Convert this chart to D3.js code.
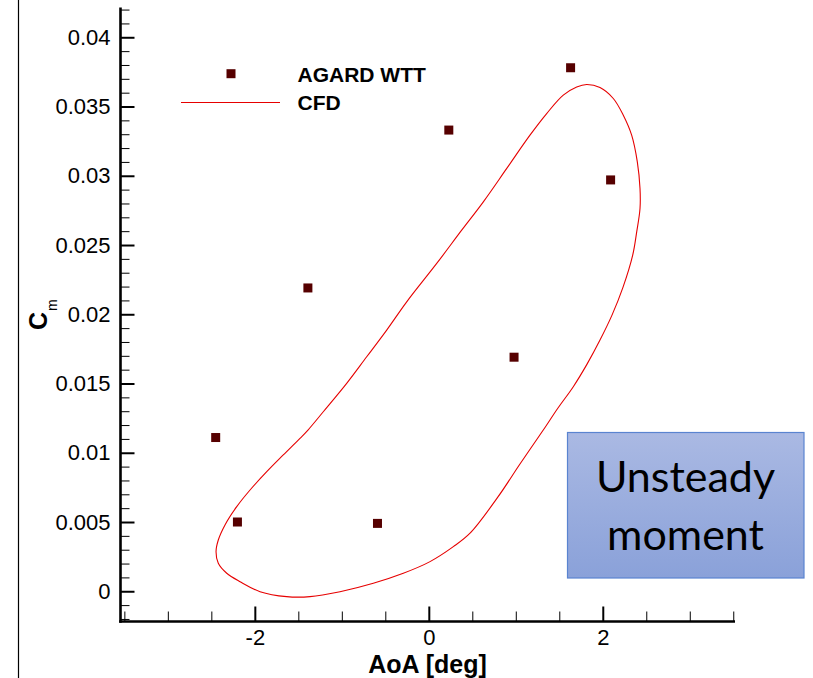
<!DOCTYPE html>
<html>
<head>
<meta charset="utf-8">
<script src="https://cdn.jsdelivr.net/npm/d3@7"></script>
<style>
  html, body { margin: 0; padding: 0; background: #fff; }
  svg { display: block; }
</style>
</head>
<body>
<svg id="chart" width="813" height="678"></svg>
<script>
// Wind-tunnel measurements (AGARD WTT): angle of attack [deg] and pitching moment
const wttAoA = [-2.45, -2.20, -1.39, -0.59, 0.23, 0.98, 1.63, 2.09];
const wttCm  = [0.0111, 0.0050, 0.0219, 0.0049, 0.0333, 0.0169, 0.0378, 0.0297];

// CFD hysteresis loop, traced once around the cycle
const cfdAoA = [
  -1.634, -1.366, -1.021, -0.638, -0.293, 0.014, 0.282, 0.474, 0.795, 1.048,
   1.316,  1.485,  1.661,  1.819,  1.968, 2.106, 2.233, 2.344, 2.390, 2.428,
   2.428,  2.397,  2.332,  2.236,  2.121, 1.968, 1.815, 1.700, 1.546, 1.355,
   1.163,  0.896,  0.627,  0.378,  0.091, -0.254, -0.484, -0.714, -0.944, -1.213,
  -1.389, -1.481, -1.673, -1.863, -2.055, -2.208, -2.343, -2.420, -2.446, -2.420,
  -2.323, -2.170, -1.940
];
const cfdCm = [
  -0.00039, -0.00039, -0.00003, 0.00058, 0.00130, 0.00214, 0.00322, 0.00419, 0.00681, 0.00919,
   0.01164,  0.01323,  0.01477, 0.01640, 0.01814, 0.01994, 0.02196, 0.02427, 0.02595, 0.02764,
   0.02908,  0.03100,  0.03293, 0.03437, 0.03558, 0.03637, 0.03659, 0.03641, 0.03582, 0.03449,
   0.03293,  0.03053,  0.02812, 0.02607, 0.02367, 0.02090, 0.01886, 0.01693, 0.01501, 0.01296,
   0.01164,  0.01104,  0.00984, 0.00863, 0.00731, 0.00611, 0.00479, 0.00370, 0.00286, 0.00202,
   0.00130,  0.00069, -0.00003
];

// Axis ticks and labels
const xMajorTicks  = [-2, 0, 2];
const xTickLabels  = ["-2", "0", "2"];
const xMinorTicks  = [-3.5, -3, -2.5, -1.5, -1, -0.5, 0.5, 1, 1.5, 2.5, 3, 3.5];
const yMajorTicks  = [0, 0.005, 0.01, 0.015, 0.02, 0.025, 0.03, 0.035, 0.04];
const yTickLabels  = ["0", "0.005", "0.01", "0.015", "0.02", "0.025", "0.03", "0.035", "0.04"];
const yMinorTicks  = d3.range(-2, 43).map(v => v / 1000).filter(v => Math.round(v * 1000) % 5 !== 0);

const legendLabels = ["AGARD WTT", "CFD"];
const boxLines = ["Unsteady", "moment"];

const svg = d3.select("#chart");
const font = "'Liberation Sans', Arial, Helvetica, sans-serif";

const x = d3.scaleLinear().domain([-3.55, 3.52]).range([120, 735]);
const y = d3.scaleLinear().domain([-0.00222, 0.04215]).range([622, 7.5]);

// thin frame line on the far left
svg.append("line")
  .attr("x1", 18.5).attr("x2", 18.5).attr("y1", 0).attr("y2", 678)
  .attr("stroke", "#000").attr("stroke-width", 1.2);

// ---- Y axis ----
const yMinor = svg.append("g").attr("transform", "translate(120.5,0)")
  .call(d3.axisLeft(y).tickValues(yMinorTicks).tickSize(-9).tickFormat(""));
yMinor.select(".domain").remove();
yMinor.selectAll(".tick line").attr("stroke", "#000").attr("stroke-width", 1);

const yMajor = svg.append("g").attr("transform", "translate(120.5,0)")
  .call(d3.axisLeft(y).tickValues(yMajorTicks).tickSize(-14).tickPadding(10)
    .tickFormat((d, i) => yTickLabels[i]));
yMajor.select(".domain").remove();
yMajor.selectAll(".tick line").attr("stroke", "#000").attr("stroke-width", 2);
yMajor.selectAll(".tick text")
  .attr("font-family", font).attr("font-size", 22).attr("fill", "#000");

// ---- X axis ----
const xMinor = svg.append("g").attr("transform", "translate(0,621.5)")
  .call(d3.axisBottom(x).tickValues(xMinorTicks).tickSize(-10).tickFormat(""));
xMinor.select(".domain").remove();
xMinor.selectAll(".tick line").attr("stroke", "#000").attr("stroke-width", 1);

const xMajor = svg.append("g").attr("transform", "translate(0,621.5)")
  .call(d3.axisBottom(x).tickValues(xMajorTicks).tickSize(-15).tickPadding(8)
    .tickFormat((d, i) => xTickLabels[i]));
xMajor.select(".domain").remove();
xMajor.selectAll(".tick line").attr("stroke", "#000").attr("stroke-width", 2);
xMajor.selectAll(".tick text")
  .attr("font-family", font).attr("font-size", 22).attr("fill", "#000");

// axis lines
svg.append("line")
  .attr("x1", 120.5).attr("x2", 120.5).attr("y1", y.range()[1]).attr("y2", 622.8)
  .attr("stroke", "#000").attr("stroke-width", 2.6);
svg.append("line")
  .attr("x1", 119.2).attr("x2", x.range()[1]).attr("y1", 621.5).attr("y2", 621.5)
  .attr("stroke", "#000").attr("stroke-width", 2.6);

// axis titles
svg.append("text")
  .attr("x", 427.5).attr("y", 673)
  .attr("text-anchor", "middle")
  .attr("font-family", font).attr("font-size", 25).attr("font-weight", "bold")
  .text("AoA [deg]");

const yTitle = svg.append("text")
  .attr("transform", "translate(47,330) rotate(-90)")
  .attr("font-family", font).attr("fill", "#000");
yTitle.append("tspan").attr("font-size", 25).attr("font-weight", "bold").text("C");
yTitle.append("tspan").attr("font-size", 14).attr("dx", 1).attr("dy", 10).text("m");

// ---- CFD loop ----
const cfdPts = cfdAoA.map((a, i) => [x(a), y(cfdCm[i])]);
svg.append("path")
  .attr("d", d3.line().curve(d3.curveCatmullRomClosed.alpha(0.5))(cfdPts))
  .attr("fill", "none").attr("stroke", "#e60000").attr("stroke-width", 1.1);

// ---- WTT markers ----
const mk = 9;
svg.append("g").selectAll("rect")
  .data(wttAoA.map((a, i) => [a, wttCm[i]]))
  .join("rect")
  .attr("x", d => x(d[0]) - mk / 2).attr("y", d => y(d[1]) - mk / 2)
  .attr("width", mk).attr("height", mk)
  .attr("fill", "#560000");

// ---- legend ----
const lg = svg.append("g");
lg.append("rect").attr("x", 231 - mk / 2).attr("y", 73.7 - mk / 2)
  .attr("width", mk).attr("height", mk).attr("fill", "#560000");
lg.append("line").attr("x1", 181).attr("x2", 280).attr("y1", 102.5).attr("y2", 102.5)
  .attr("stroke", "#e60000").attr("stroke-width", 1.1);
lg.selectAll("text").data(legendLabels).join("text")
  .attr("x", 297.5).attr("y", (d, i) => 81.8 + i * 28.5)
  .attr("font-family", font).attr("font-size", 21).attr("font-weight", "bold")
  .text(d => d);

// ---- annotation box ----
const defs = svg.append("defs");
const grad = defs.append("linearGradient").attr("id", "boxFill")
  .attr("x1", 0).attr("y1", 0).attr("x2", 0).attr("y2", 1);
grad.append("stop").attr("offset", "0%").attr("stop-color", "#aab9e3");
grad.append("stop").attr("offset", "100%").attr("stop-color", "#8aa1d9");

svg.append("rect")
  .attr("x", 567.5).attr("y", 432.5).attr("width", 236.5).attr("height", 145.5)
  .attr("fill", "url(#boxFill)").attr("stroke", "#5a84d0").attr("stroke-width", 1.2);
svg.append("g").selectAll("text").data(boxLines).join("text")
  .attr("x", 685.5).attr("y", (d, i) => 492 + i * 58)
  .attr("text-anchor", "middle")
  .attr("font-family", "Lato, 'Open Sans', sans-serif").attr("font-size", 43)
  .attr("fill", "#000")
  .text(d => d);
</script>
</body>
</html>
